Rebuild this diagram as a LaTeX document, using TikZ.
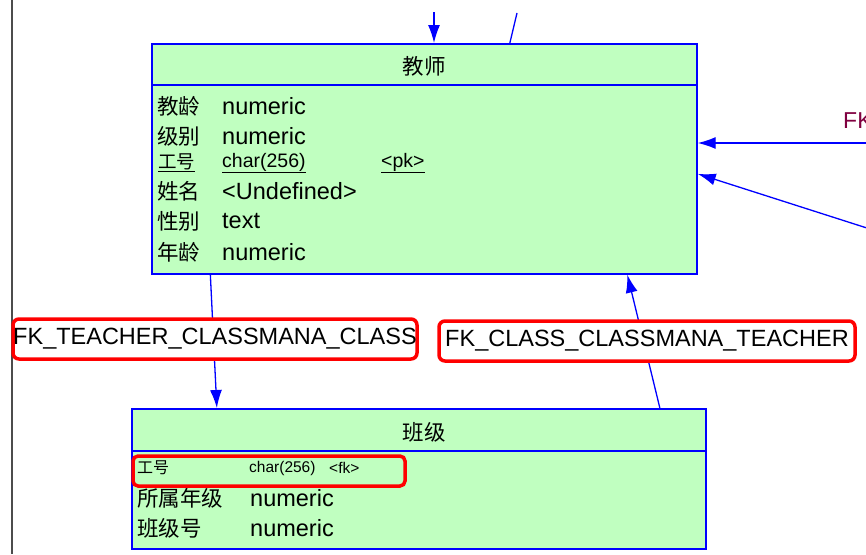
\documentclass[tikz,border=0pt]{standalone}
\usepackage{fontspec}
\usepackage{graphicx}
\setmainfont{Liberation Sans}
\newfontfamily\cjk{Noto Sans CJK SC}
\usetikzlibrary{arrows.meta,calc}
\definecolor{entfill}{HTML}{C0FFC0}
\definecolor{entline}{HTML}{0000FF}
\definecolor{fkred}{HTML}{800040}
\begin{document}
\begin{tikzpicture}[x=1pt,y=-1pt,
  entity/.style={draw=entline, fill=entfill, line width=1.7pt, anchor=north west, inner sep=0pt},
  sep/.style={draw=entline, line width=1.7pt},
  conn/.style={draw=entline, line width=1.3pt},
  fkarrow/.style={conn, -{Latex[length=18pt,width=12pt]}},
  title/.style={font=\cjk\fontsize{21.5}{24}\selectfont, inner sep=0pt},
  cname/.style={font=\cjk\fontsize{21.5}{24}\selectfont, anchor=west, inner sep=0pt},
  ctype/.style={font=\fontsize{23.5}{26}\selectfont, anchor=west, inner sep=0pt},
  sname/.style={font=\cjk\fontsize{18.5}{20}\selectfont, anchor=west, inner sep=0pt},
  stype/.style={font=\fontsize{19.5}{22}\selectfont, anchor=west, inner sep=0pt},
  tname/.style={font=\cjk\fontsize{16}{18}\selectfont, anchor=west, inner sep=0pt},
  ttype/.style={font=\fontsize{15.5}{18}\selectfont, anchor=west, inner sep=0pt},
  fklabel/.style={draw=red, line width=3.5pt, rounded corners=6pt, fill=white, inner sep=0pt, font=\fontsize{23.5}{26}\selectfont}
]
\useasboundingbox (0,0) rectangle (866,554);
\fill[white] (0,0) rectangle (866,554);
\draw[black!70, line width=1.5pt] (12,0) -- (12,554);

% Teacher entity
\node[entity, minimum width=545pt, minimum height=230pt] (teacher) at (151,43) {};
\draw[sep] (151,85) -- (696,85);
\node[title] (tt) at (424,66) {教师};
\node[cname] (t1n) at (157,106) {教龄};
\node[ctype] (t1t) at (222,106) {numeric};
\node[cname] (t2n) at (157,136) {级别};
\node[ctype] (t2t) at (222,136) {numeric};
\node[sname] (t3n) at (158,163) {\underline{工号}};
\node[stype] (t3t) at (222,163) {\underline{char(256)}};
\node[stype] (t3k) at (381,163) {\underline{<pk>}};
\node[cname] (t4n) at (157,191) {姓名};
\node[ctype] (t4t) at (222,191) {<Undefined>};
\node[cname] (t5n) at (157,221) {性别};
\node[ctype] (t5t) at (222,221) {text};
\node[cname] (t6n) at (157,252) {年龄};
\node[ctype] (t6t) at (222,252) {numeric};

% Class entity
\node[entity, minimum width=574pt, minimum height=140pt] (class) at (131,408) {};
\draw[sep] (131,451) -- (705,451);
\node[title] (ct) at (424,432) {班级};
\node[tname] (c1n) at (137,468) {工号};
\node[ttype] (c1t) at (249,468) {char(256)};
\node[ttype] (c1k) at (329,468) {<fk>};
\node[cname] (c2n) at (137,498) {所属年级};
\node[ctype] (c2t) at (250,498) {numeric};
\node[cname] (c3n) at (137,528) {班级号};
\node[ctype] (c3t) at (250,528) {numeric};
\node[draw=red, line width=3.5pt, rounded corners=5pt, minimum width=272pt, minimum height=30pt, inner sep=0pt] (hl) at (269,471) {};

% connectors at top and right (free ends)
\coordinate (top1) at (434,12);
\coordinate (top2) at (517,13);
\coordinate (right1) at (870,143);
\coordinate (right2) at (870,229);
\draw[fkarrow] (top1) -- (top1 |- teacher.north);
\draw[conn] (top2) -- ($(teacher.north)+(85.5,0)$);
\draw[fkarrow] (right1) -- (right1 -| teacher.east);
\draw[fkarrow] (right2) -- ($(teacher.east)+(0,15)$);
\node[font=\fontsize{23}{26}\selectfont, text=fkred, anchor=west, inner sep=0pt] (fk) at (843,121) {FK};

% relationships between teacher and class
\draw[fkarrow] ($(teacher.south)+(-214,0)$) -- ($(class.north)+(-202,0)$);
\draw[fkarrow] ($(class.north)+(241,0)$) -- ($(teacher.south)+(203,0)$);

\node[fklabel, minimum width=404pt, minimum height=40pt] (lab1) at (215,339) {FK\_TEACHER\_CLASSMANA\_CLASS};
\node[fklabel, minimum width=416pt, minimum height=40pt] (lab2) at (647,341) {FK\_CLASS\_CLASSMANA\_TEACHER};
\end{tikzpicture}
\end{document}
